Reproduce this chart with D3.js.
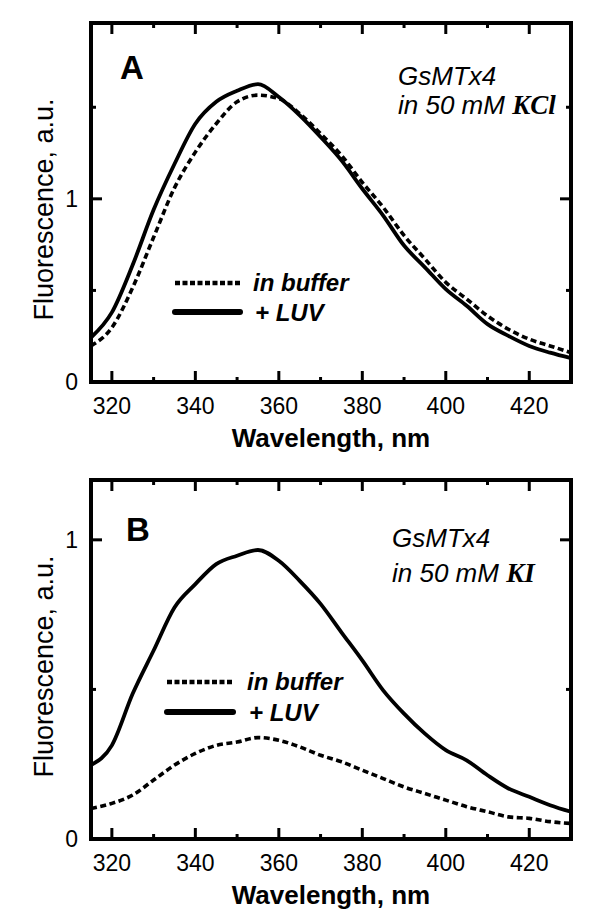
<!DOCTYPE html>
<html><head><meta charset="utf-8">
<script src="https://cdn.jsdelivr.net/npm/d3@7"></script>
<style>body{margin:0;background:#fff}svg{display:block}</style>
</head><body><svg id="c" width="612" height="922"></svg>
<script>
const wavelength = [315,320,325,330,335,340,345,350,355,360,365,370,375,380,385,390,395,400,405,410,415,420,425,430];
const kclBuffer = [0.197,0.297,0.516,0.79,1.06,1.255,1.41,1.53,1.566,1.547,1.465,1.356,1.237,1.09,0.954,0.80,0.672,0.544,0.453,0.361,0.288,0.234,0.197,0.16];
const kclLuv    = [0.243,0.38,0.64,0.94,1.19,1.41,1.53,1.59,1.626,1.556,1.456,1.338,1.21,1.055,0.909,0.745,0.626,0.507,0.416,0.316,0.252,0.197,0.16,0.13];
const kiBuffer  = [0.102,0.119,0.147,0.197,0.247,0.286,0.313,0.324,0.339,0.33,0.308,0.28,0.258,0.23,0.202,0.174,0.152,0.13,0.108,0.091,0.074,0.069,0.058,0.052];
const kiLuv     = [0.247,0.313,0.486,0.63,0.774,0.852,0.919,0.947,0.966,0.93,0.863,0.786,0.691,0.597,0.497,0.419,0.352,0.297,0.263,0.213,0.169,0.141,0.113,0.091];
const xMajorTicks = [320,340,360,380,400,420];
const xMinorTicks = [330,350,370,390,410];
const xDomain = [315,430];
const panelLabels = ["A","B"];
const saltNames = ["KCl","KI"];
const seriesNames = ["in buffer","+ LUV"];
const compound = "GsMTx4";
const xTitle = "Wavelength, nm";
const yTitle = "Fluorescence, a.u.";

const panels = [
  {label:panelLabels[0], salt:saltNames[0], buffer:kclBuffer, luv:kclLuv, yMax:1.96, yMajor:[0,1], yMinor:[0.5,1.5],
   top:23, bottom:382, letter:[120,79], note:[398,85,114], legend:[175,240,283,312,253]},
  {label:panelLabels[1], salt:saltNames[1], buffer:kiBuffer, luv:kiLuv, yMax:1.2, yMajor:[0,1], yMinor:[0.5],
   top:480, bottom:839, letter:[126,541], note:[392,547,582], legend:[167,233,682,712,247]}
];

const svg = d3.select("#c");
const left = 91, right = 571;
const x = d3.scaleLinear().domain(xDomain).range([left,right]);
const sans = "'Liberation Sans', Arial, sans-serif";

panels.forEach(p => {
  const y = d3.scaleLinear().domain([0,p.yMax]).range([p.bottom,p.top]);
  const g = svg.append("g");

  const data = key => wavelength.map((w,i)=>[w,p[key][i]]);
  const line = d3.line().x(d=>x(d[0])).y(d=>y(d[1])).curve(d3.curveMonotoneX);
  g.append("path").attr("d",line(data("buffer"))).attr("fill","none").attr("stroke","#000")
    .attr("stroke-width",3.6).attr("stroke-dasharray","6,3.5");
  g.append("path").attr("d",line(data("luv"))).attr("fill","none").attr("stroke","#000")
    .attr("stroke-width",3.8).attr("stroke-linejoin","round");

  g.append("rect").attr("x",left).attr("y",p.top).attr("width",right-left).attr("height",p.bottom-p.top)
    .attr("fill","none").attr("stroke","#000").attr("stroke-width",4);

  const tk = (list,len) => list.forEach(t=>{
    g.append("line").attr("x1",x(t)).attr("x2",x(t)).attr("y1",p.bottom).attr("y2",p.bottom-len).attr("stroke","#000").attr("stroke-width",3);
    g.append("line").attr("x1",x(t)).attr("x2",x(t)).attr("y1",p.top).attr("y2",p.top+len).attr("stroke","#000").attr("stroke-width",3);
  });
  tk(xMajorTicks,11); tk(xMinorTicks,5);
  const ytk = (list,len) => list.forEach(t=>{
    if (t===0) return;
    g.append("line").attr("y1",y(t)).attr("y2",y(t)).attr("x1",left).attr("x2",left+len).attr("stroke","#000").attr("stroke-width",3);
    g.append("line").attr("y1",y(t)).attr("y2",y(t)).attr("x1",right).attr("x2",right-len).attr("stroke","#000").attr("stroke-width",3);
  });
  ytk(p.yMajor,11); ytk(p.yMinor,5);

  xMajorTicks.forEach(t=>{
    g.append("text").attr("x",x(t)).attr("y",p.bottom+32).attr("text-anchor","middle")
      .attr("font-family",sans).attr("font-size",23).text(t);
  });
  p.yMajor.forEach(t=>{
    g.append("text").attr("x",78).attr("y",y(t)).attr("dy","0.35em").attr("text-anchor","end")
      .attr("font-family",sans).attr("font-size",23).text(d3.format("d")(t));
  });

  g.append("text").attr("x",(left+right)/2).attr("y",p.bottom+65).attr("text-anchor","middle")
    .attr("font-family",sans).attr("font-weight","bold").attr("font-size",26).text(xTitle);
  const cy = (p.top+p.bottom)/2 + 7;
  g.append("text").attr("transform",`translate(53,${cy}) rotate(-90)`).attr("text-anchor","middle")
    .attr("font-family",sans).attr("font-size",27).text(yTitle);

  g.append("text").attr("x",p.letter[0]).attr("y",p.letter[1]).attr("font-family",sans)
    .attr("font-weight","bold").attr("font-size",33).text(p.label);

  g.append("text").attr("x",p.note[0]).attr("y",p.note[1]).attr("font-family",sans)
    .attr("font-style","italic").attr("font-size",26).text(compound);
  const t2 = g.append("text").attr("x",p.note[0]).attr("y",p.note[2]).attr("font-family",sans)
    .attr("font-style","italic").attr("font-size",26);
  t2.append("tspan").text("in 50 mM ");
  t2.append("tspan").attr("font-family","'Liberation Serif', 'Times New Roman', serif")
    .attr("font-weight","bold").attr("font-size",27).text(p.salt);

  const L = p.legend;
  g.append("line").attr("x1",L[0]).attr("x2",L[1]).attr("y1",L[2]).attr("y2",L[2]).attr("stroke","#000")
    .attr("stroke-width",4.5).attr("stroke-dasharray","5,2.5");
  g.append("line").attr("x1",L[0]).attr("x2",L[1]).attr("y1",L[3]).attr("y2",L[3]).attr("stroke","#000")
    .attr("stroke-width",6).attr("stroke-linecap","round");
  g.append("text").attr("x",L[4]).attr("y",L[2]+8).attr("font-family",sans).attr("font-weight","bold")
    .attr("font-style","italic").attr("font-size",24).text(seriesNames[0]);
  g.append("text").attr("x",L[4]+2).attr("y",L[3]+9).attr("font-family",sans).attr("font-weight","bold")
    .attr("font-style","italic").attr("font-size",24).text(seriesNames[1]);
});
</script></body></html>
